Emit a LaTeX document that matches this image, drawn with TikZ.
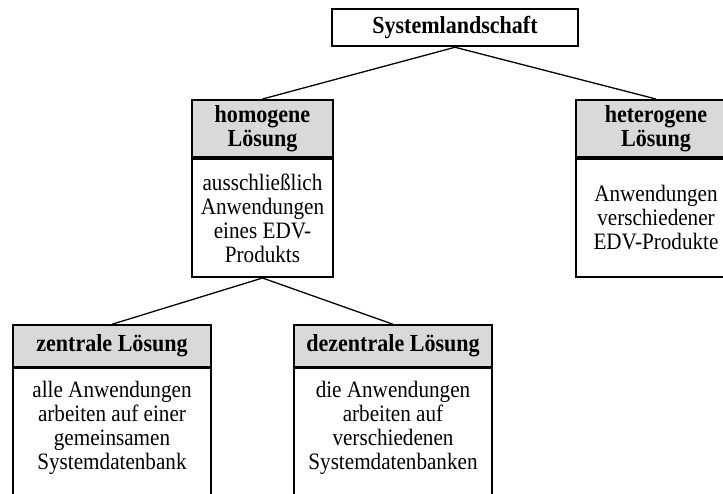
\documentclass[tikz,border=0pt]{standalone}
\usepackage{fontspec}
\setmainfont{Liberation Serif}[FakeStretch=0.9]
\definecolor{headgray}{RGB}{217,217,217}
\newcommand{\bodyfont}{\fontsize{23.5}{24}\selectfont}
\newcommand{\headfont}{\fontsize{24.5}{24}\selectfont\bfseries}
\begin{document}
\begin{tikzpicture}[x=1pt,y=-1pt,
  every node/.style={align=center,inner sep=0pt,font=\bodyfont},
  headbox/.style={draw,fill=headgray,line width=2pt,font=\headfont},
  bodybox/.style={draw,line width=2pt},
  lowhead/.style={headbox,line width=1.5pt,minimum width=198pt,minimum height=42pt},
  lowbody/.style={bodybox,line width=1.5pt,minimum width=198pt,minimum height=160pt,anchor=north},
  link/.style={line width=1.3pt}]
\clip (0,0) rectangle (723,493);

% root
\node[draw,line width=2.5pt,minimum width=246pt,minimum height=37pt,font=\headfont]
  (root) at (455,27.5) {Systemlandschaft};

% second level
\node[headbox,minimum width=141pt,minimum height=57pt] (hom) at (262.5,128.5) {homogene\\Lösung};
\node[bodybox,minimum width=141pt,minimum height=118pt,anchor=north] (homB) at (hom.south)
  {ausschließlich\\Anwendungen\\eines EDV-\\Produkts};

\node[headbox,minimum width=160pt,minimum height=57pt] (het) at (656,128.5) {heterogene\\Lösung};
\node[bodybox,minimum width=160pt,minimum height=118pt,anchor=north] (hetB) at (het.south)
  {Anwendungen\\verschiedener\\EDV-Produkte};

% third level
\node[lowhead] (zen) at (112,346) {zentrale Lösung};
\node[lowbody] (zenB) at (zen.south) {};
\node (zenT) at (112,428) {alle Anwendungen\\arbeiten auf einer\\gemeinsamen\\Systemdatenbank};

\node[lowhead] (dez) at (393,346) {dezentrale Lösung};
\node[lowbody] (dezB) at (dez.south) {};
\node (dezT) at (393,428) {die Anwendungen\\arbeiten auf\\verschiedenen\\Systemdatenbanken};

% connectors
\draw[link] (root.south) -- (hom.north);
\draw[link] (root.south) -- (het.north);
\draw[link] (homB.south) -- (zen.north);
\draw[link] (homB.south) -- (dez.north);
\end{tikzpicture}
\end{document}
